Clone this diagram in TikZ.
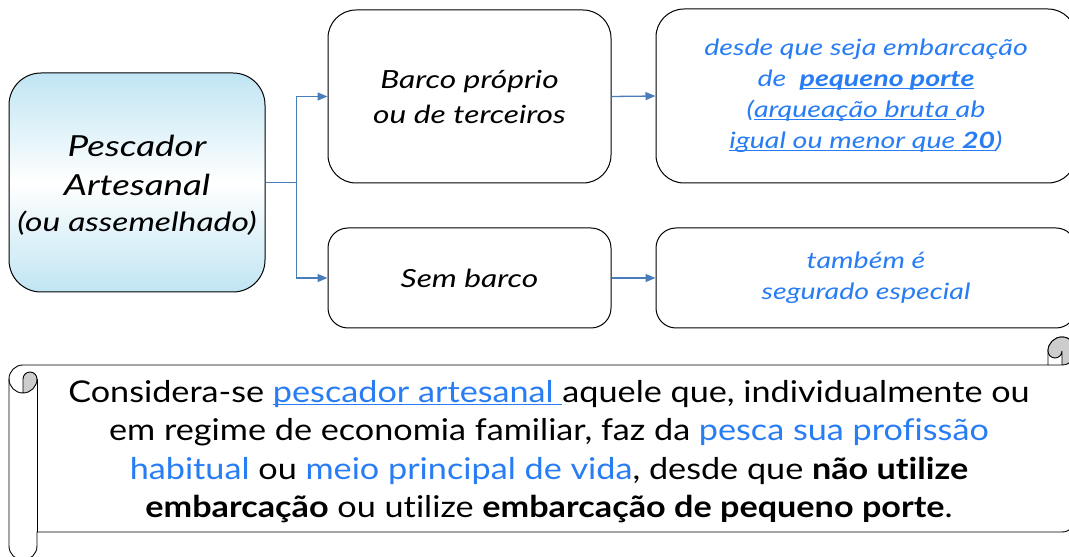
\documentclass[tikz,border=0pt]{standalone}
\usepackage{fontspec}
\setmainfont{Lato}[Ligatures=NoCommon,
  UprightFeatures={FakeStretch=1.14}, BoldFeatures={FakeStretch=1.14},
  ItalicFeatures={FakeStretch=1.27}, BoldItalicFeatures={FakeStretch=1.27}]
\newsavebox\myulbox
\newcommand\myul[1]{\leavevmode\sbox\myulbox{#1}\rlap{\rule[-2.6pt]{\wd\myulbox}{1.1pt}}\usebox\myulbox}
\usetikzlibrary{arrows.meta}
\definecolor{tblue}{RGB}{40,125,245}
\definecolor{conn}{RGB}{74,126,187}
\definecolor{lblue}{RGB}{192,229,243}
\definecolor{curlgrey}{RGB}{205,205,205}
\tikzset{
  rbox/.style={draw=black, line width=1pt, rounded corners=#1, align=center, inner sep=0pt},
  cn/.style={draw=conn, line width=1.3pt, -{Triangle[length=10pt,width=8pt]}},
  cnline/.style={draw=conn, line width=1.3pt},
  scrl/.style={draw=black, line width=0.9pt},
  curl/.style={fill=curlgrey},
  blk/.style={font=\fontsize{25}{35}\selectfont\itshape},
  blu/.style={font=\fontsize{22.5}{31}\selectfont\itshape, text=tblue},
}
\begin{document}
\begin{tikzpicture}[x=1pt,y=1pt]
\useasboundingbox (0,0) rectangle (1069,557);
\clip (0,0) rectangle (1069,557);
\fill[white] (0,0) rectangle (1069,557);

% left box
\node[rbox=32pt, top color=lblue, bottom color=lblue, middle color=white,
      minimum width=256pt, minimum height=219pt] (L) at (137,374.5) {};
\node[align=center, font=\fontsize{29}{39}\selectfont\itshape] (Lt) at ([yshift=-3pt]L.center)
  {Pescador\\Artesanal\\[-3pt]\fontsize{26.5}{35}\selectfont(ou assemelhado)};

% middle boxes
\node[rbox=28pt, blk, minimum width=283pt, minimum height=173pt] (M1) at (469.5,460.5)
  {Barco próprio\\ou de terceiros};
\node[rbox=20pt, blk, minimum width=283pt, minimum height=100pt] (M2) at (469.5,279)
  {Sem barco};

% right boxes
\node[rbox=28pt, blu, minimum width=420pt, minimum height=174pt] (R1) at (866,461)
  {desde que seja embarcação\\
   de~ \textbf{\myul{pequeno porte}}\\
   (\myul{arqueação bruta }ab\\
   \myul{igual ou menor que \textbf{20}})};
\node[rbox=20pt, blu, minimum width=420pt, minimum height=100pt] (R2) at (866,279)
  {também é\\segurado especial};

% connectors
\draw[cnline] (L.east) -- ++(31,0) coordinate (J);
\draw[cn] (J) |- (M1.west);
\draw[cn] (J) |- (M2.west);
\draw[cn] (M1.east) -- (R1.west);
\draw[cn] (M2.east) -- (R2.west);

% scroll
\path[scrl, fill=white] (9,178) arc[start angle=180,end angle=90,radius=14pt]
  -- (1048,192) -- (1048,206) arc[start angle=180,end angle=0,radius=14pt]
  -- (1076,39) arc[start angle=0,end angle=-90,radius=14pt]
  -- (37,25) -- (37,11) arc[start angle=0,end angle=-180,radius=14pt] -- cycle;
% left curl
\fill[curl] (23,164) arc[start angle=-90,end angle=0,radius=14pt]
  arc[start angle=0,end angle=180,radius=7pt] -- cycle;
\draw[scrl] (23,164) -- (23,178) arc[start angle=180,end angle=0,radius=7pt]
  arc[start angle=0,end angle=-180,radius=14pt];
\draw[scrl] (37,178) -- (37,25);
% right curl
\fill[curl] (1062,192) arc[start angle=-90,end angle=180,radius=14pt]
  arc[start angle=180,end angle=360,radius=7pt] -- cycle;
\draw[scrl] (1048,192) -- (1062,192) arc[start angle=-90,end angle=0,radius=14pt];
\draw[scrl] (1062,192) -- (1062,206) arc[start angle=0,end angle=-180,radius=7pt];
\draw[scrl] (1048,206) arc[start angle=180,end angle=0,radius=14pt];

\node[align=center, font=\fontsize{30}{38.3}\selectfont] (S) at (549,105.5)
  {Considera-se {\color{tblue}\myul{pescador artesanal }}aquele que, individualmente ou\\
   em regime de economia familiar, faz da {\color{tblue}pesca sua profissão}\\
   {\color{tblue}habitual} ou {\color{tblue}meio principal de vida}, desde que \textbf{não utilize}\\
   \textbf{embarcação} ou utilize \textbf{embarcação de pequeno porte}.};
\end{tikzpicture}
\end{document}
